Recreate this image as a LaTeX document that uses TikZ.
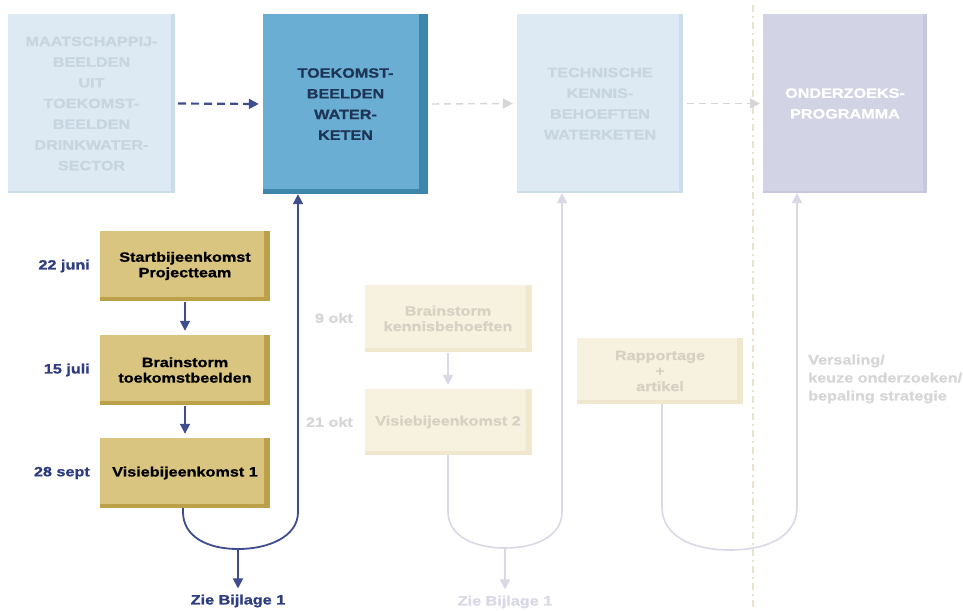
\documentclass[tikz,border=0pt]{standalone}
\usepackage{fontspec}
\setmainfont{Liberation Sans}
\newfontfamily\wf[FakeStretch=1.2, BoldFeatures={FakeBold=1.0}]{Liberation Sans}
\usetikzlibrary{arrows.meta}
\definecolor{navy}{HTML}{3F4C8F}
\definecolor{navytxt}{HTML}{2E3D80}
\definecolor{lblue}{HTML}{DDEAF3}
\definecolor{lbluedark}{HTML}{CCDDEA}
\definecolor{lbluetxt}{HTML}{C6D5E0}
\definecolor{mblue}{HTML}{6BAED4}
\definecolor{mbluedark}{HTML}{3F86AD}
\definecolor{btxt}{HTML}{1E3556}
\definecolor{lav}{HTML}{D3D3E6}
\definecolor{lavdark}{HTML}{C7C7DD}
\definecolor{tan}{HTML}{D9C57F}
\definecolor{tandark}{HTML}{BCA04A}
\definecolor{ftan}{HTML}{F7F2E0}
\definecolor{ftandark}{HTML}{EFE8CF}
\definecolor{ftxt}{HTML}{D6D1C2}
\definecolor{fline}{HTML}{D8D8E6}
\definecolor{fgrey}{HTML}{D6D6D6}
\definecolor{vline}{HTML}{EAE3CC}
\tikzset{
  txt/.style={font=\wf\bfseries\fontsize{13.5}{15.5}\selectfont, align=center, inner sep=0pt},
  bigtxt/.style={font=\wf\bfseries\fontsize{13.5}{20.7}\selectfont, align=center},
  topbox/.style={minimum width=166pt, minimum height=179pt, inner sep=0pt, bigtxt},
  shade/.style 2 args={path picture={
      \fill[#1] ([xshift=-#2]path picture bounding box.north east) rectangle (path picture bounding box.south east);
      \fill[#1] (path picture bounding box.south west) rectangle ([yshift=0.6*#2]path picture bounding box.south east);}},
  tanbox/.style={txt, fill=tan, text=black, minimum width=170pt, minimum height=70pt, shade={tandark}{6pt}},
  fbox/.style={txt, fill=ftan, text=ftxt, minimum width=167pt, minimum height=67pt, shade={ftandark}{6pt}},
  datetxt/.style={txt, text=navytxt, anchor=east},
  fdatetxt/.style={txt, text=fgrey, anchor=east},
  tip/.style={-{Triangle[width=10pt,length=10pt]}},
  navyline/.style={draw=navy, line width=1.8pt},
  fadeline/.style={draw=fline, line width=1.6pt},
}
\begin{document}
\begin{tikzpicture}[x=1pt,y=-1pt]
\useasboundingbox (0,0) rectangle (963,610);

% vertical dashed separator
\coordinate (vt) at (753,5);
\coordinate (vb) at (753,610);
\draw[vline, line width=1.2pt, dash pattern=on 7pt off 4pt on 2pt off 4pt] (vt) -- (vb);

% top boxes
\node[topbox, fill=lblue, text=lbluetxt, minimum width=167pt, shade={lbluedark}{4pt}] (A) at (91.5,103.5)
  {MAATSCHAPPIJ-\\BEELDEN\\UIT\\TOEKOMST-\\BEELDEN\\DRINKWATER-\\SECTOR};
\node[topbox, fill=mblue, text=btxt, minimum width=165pt, minimum height=180pt, shade={mbluedark}{9pt}] (B) at (345.5,104)
  {TOEKOMST-\\BEELDEN\\WATER-\\KETEN};
\node[topbox, fill=lblue, text=lbluetxt, shade={lbluedark}{4pt}] (C) at (600,103.5)
  {TECHNISCHE\\KENNIS-\\BEHOEFTEN\\WATERKETEN};
\node[topbox, fill=lav, text=white, minimum width=164pt, shade={lavdark}{4pt}] (D) at (845,103.5)
  {ONDERZOEKS-\\PROGRAMMA};

\draw[navyline, line width=2.2pt, tip, dash pattern=on 8pt off 5pt, shorten <=3pt, shorten >=4pt] (A.east) -- (B.west);
\draw[draw=fgrey, line width=1.4pt, tip, dash pattern=on 7pt off 5pt, shorten <=4pt, shorten >=4pt] (B.east) -- (C.west);
\draw[draw=fgrey, line width=1.4pt, tip, dash pattern=on 7pt off 5pt, shorten <=4pt, shorten >=3pt] (C.east) -- (D.west);

% active column
\node[tanbox] (t1) at (185,266) {Startbijeenkomst\\Projectteam};
\node[tanbox] (t2) at (185,370) {Brainstorm\\toekomstbeelden};
\node[tanbox] (t3) at (185,473) {Visiebijeenkomst 1};
\node[datetxt] (d1) at (90,266) {22 juni};
\node[datetxt] (d2) at (90,370) {15 juli};
\node[datetxt] (d3) at (90,473) {28 sept};
\draw[navyline, tip, shorten <=1pt, shorten >=4pt] (t1.south) -- (t2.north);
\draw[navyline, tip, shorten <=1pt, shorten >=4pt] (t2.south) -- (t3.north);

\coordinate (l1a) at (183,508);
\coordinate (l1l) at (183,512);
\coordinate (l1b) at (238,549);
\coordinate (l1r) at (298,512);
\node[txt, text=navytxt] (z1) at (238,601) {Zie Bijlage 1};
\draw[navyline, tip] (l1a) -- (l1l) .. controls (183,537) and (208,549) .. (l1b)
  .. controls (268,549) and (298,537) .. (l1r) -- (l1r |- B.south);
\draw[navyline, tip, shorten >=6pt] (l1b) -- (z1.north);

% faded column 2
\node[fbox] (f1) at (448,318.5) {Brainstorm\\kennisbehoeften};
\node[fbox, minimum height=66pt] (f2) at (448,422) {Visiebijeenkomst 2};
\node[fdatetxt] (d4) at (353,318) {9 okt};
\node[fdatetxt] (d5) at (353,422) {21 okt};
\draw[fadeline, tip, shorten <=1pt, shorten >=4pt] (f1.south) -- (f2.north);
\coordinate (l2l) at (448,512);
\coordinate (l2b) at (505,548);
\coordinate (l2r) at (562,512);
\node[txt, text=fline] (z2) at (505,602) {Zie Bijlage 1};
\draw[fadeline, tip] (f2.south) -- (l2l) .. controls (448,536) and (474,548) .. (l2b)
  .. controls (536,548) and (562,536) .. (l2r) -- (l2r |- C.south);
\draw[fadeline, tip, shorten >=6pt] (l2b) -- (z2.north);

% faded column 3
\node[fbox, minimum width=166pt, minimum height=66pt] (r) at (660,371) {Rapportage\\+\\artikel};
\coordinate (l3l) at (662,507);
\coordinate (l3b) at (730,550);
\coordinate (l3r) at (797,507);
\draw[fadeline, tip] (l3l |- r.south) -- (l3l) .. controls (662,536) and (692,550) .. (l3b)
  .. controls (768,550) and (797,536) .. (l3r) -- (l3r |- D.south);
\node[anchor=west, align=left, inner sep=0pt, text=fgrey,
  font=\wf\bfseries\fontsize{13.5}{18}\selectfont] (v) at (808,379)
  {Versaling/\\keuze onderzoeken/\\bepaling strategie};
\end{tikzpicture}
\end{document}
